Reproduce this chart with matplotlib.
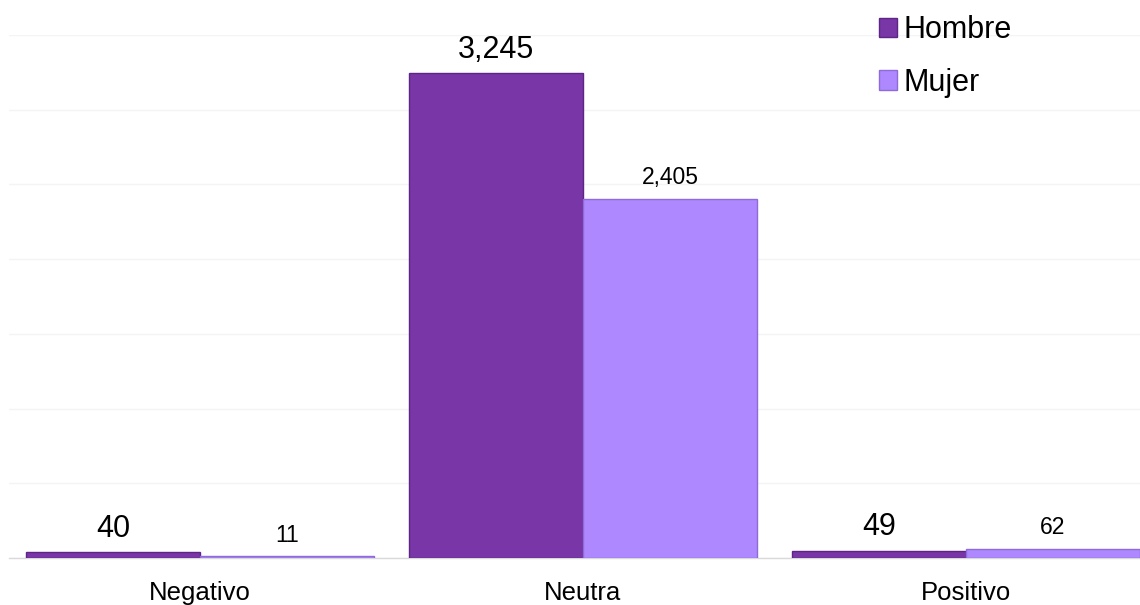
import matplotlib
matplotlib.use("Agg")
import matplotlib.pyplot as plt
import numpy as np
from matplotlib.patches import Patch

plt.rcParams['font.family'] = ['Liberation Sans', 'DejaVu Sans']

categories = ["Negativo", "Neutra", "Positivo"]
series_names = ["Hombre", "Mujer"]
hombre = [40, 3245, 49]
mujer = [11, 2405, 62]

col_h = "#7836A6"
col_m = "#AD88FF"
edge_h = "#5E2585"
edge_m = "#8F6AD9"

W, H = 1140, 605
fig = plt.figure(figsize=(W / 100, H / 100), dpi=100)
left_px, right_px, top_px, bottom_px = 8.5, 1157.5, 35, 558
ax = fig.add_axes([left_px / W, 1 - bottom_px / H, (right_px - left_px) / W, (bottom_px - top_px) / H])

x = np.arange(len(categories))
bw = 0.454
bh = ax.bar(x - bw / 2, hombre, bw, color=col_h, edgecolor=edge_h, linewidth=1.0, zorder=3)
bm = ax.bar(x + bw / 2, mujer, bw, color=col_m, edgecolor=edge_m, linewidth=1.0, zorder=3)

ax.set_xlim(-0.5, 2.5)
ax.set_ylim(0, 3500)
ax.set_yticks(np.arange(0, 3501, 500))
ax.yaxis.grid(True, color="#f4f4f4", linewidth=1.0, zorder=0)
ax.tick_params(axis="y", left=False, labelleft=False)
ax.tick_params(axis="x", bottom=False, labelsize=18.5, pad=13)
ax.set_xticks(x)
ax.set_xticklabels(categories)
for s in ["top", "right", "left"]:
    ax.spines[s].set_visible(False)
ax.spines["bottom"].set_color("#d9d9d9")
ax.spines["bottom"].set_linewidth(1.0)

for rect, v in zip(bh, hombre):
    ax.annotate(f"{v:,}", (rect.get_x() + rect.get_width() / 2, v),
                xytext=(0, 6), textcoords="offset points",
                ha="center", va="bottom", fontsize=22, color="black")
for rect, v in zip(bm, mujer):
    ax.annotate(f"{v:,}", (rect.get_x() + rect.get_width() / 2, v),
                xytext=(0, 7), textcoords="offset points",
                ha="center", va="bottom", fontsize=16.5, color="black")

handles = [Patch(facecolor=col_h, edgecolor=edge_h), Patch(facecolor=col_m, edgecolor=edge_m)]
fig.legend(handles, series_names, loc="upper left", bbox_to_anchor=(879 / W, 1 - 15 / H),
           frameon=False, fontsize=22, handlelength=0.6, handleheight=0.6,
           handletextpad=0.2, labelspacing=0.75, borderaxespad=0, borderpad=0)

fig.savefig("out.png", dpi=100)
